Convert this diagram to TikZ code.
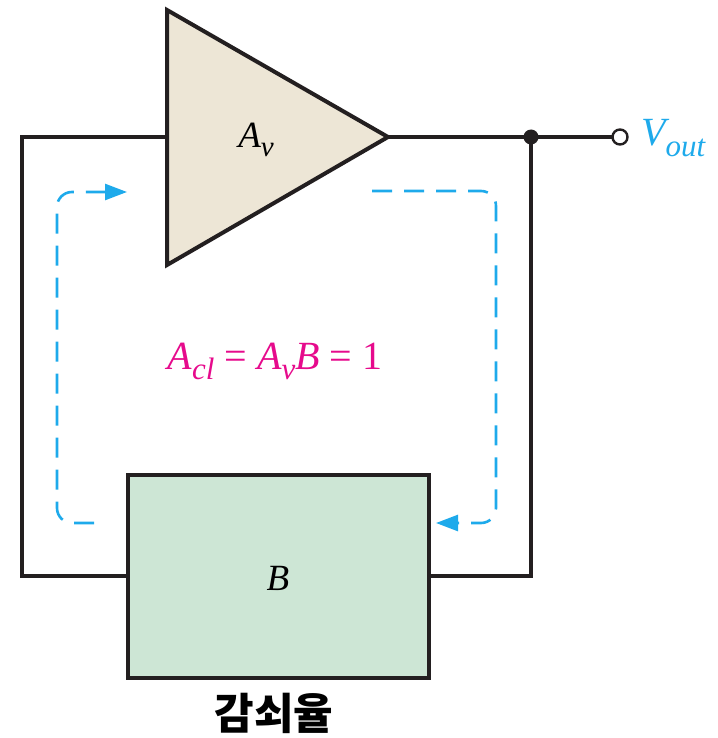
\documentclass[tikz,border=0pt]{standalone}
\usepackage{fontspec}
\setmainfont{Liberation Serif}
\newfontfamily\krfont{Noto Sans CJK KR}
\usetikzlibrary{arrows.meta}
\definecolor{loopblue}{RGB}{30,170,235}
\definecolor{gainpink}{RGB}{230,10,140}
\definecolor{ampfill}{RGB}{237,230,214}
\definecolor{boxfill}{RGB}{205,230,213}
\definecolor{ink}{RGB}{35,31,32}
\tikzset{
  wire/.style={line width=4pt, ink},
  loopdash/.style={loopblue, line width=2.6pt, dash pattern=on 20pt off 12pt, rounded corners=15pt, -{Triangle[length=22pt,width=16pt]}},
  lbl/.style={inner sep=0pt, font=\fontsize{37}{40}\selectfont\itshape},
}
\newcommand{\subv}[2]{\raisebox{-0.55ex}{\fontsize{#1}{#1}\selectfont #2}}
\begin{document}
\begin{tikzpicture}[x=1pt,y=-1pt]
\useasboundingbox (0,0) rectangle (717,738);
% coordinates
\coordinate (ampTop) at (167,10);
\coordinate (ampBot) at (167,265);
\coordinate (ampOut) at (388,137);
\coordinate (ampIn) at (167,137);
\coordinate (nodeJ) at (531,137);
\coordinate (inL) at (22,137);
\coordinate (fbL) at (22,576);
\coordinate (fbR) at (531,576);
% feedback box
\node[draw, line width=4pt, ink, fill=boxfill, minimum width=301pt, minimum height=203pt, inner sep=0pt] (fb) at (278.5,576) {};
\node[lbl] at (278,578) {B};
% wires
\draw[wire] (ampOut) -- (613,137);
\draw[wire] (nodeJ) -- (fbR) -- (fb.east |- fbR);
\draw[wire] (fb.west |- fbL) -- (fbL) -- (inL) -- (ampIn);
% amplifier
\draw[line width=4pt, ink, fill=ampfill, line join=miter] (ampTop) -- (ampOut) -- (ampBot) -- cycle;
\node[lbl] (av) at (256,140) {A\subv{29}{v}};
% junction and terminal
\fill[ink] (nodeJ) circle (7.5pt);
\node[circle, draw, line width=2.4pt, ink, fill=white, minimum size=15pt, inner sep=0pt] (term) at (620,137) {};
\node[anchor=base west, inner sep=0pt, loopblue, font=\fontsize{40}{44}\selectfont\itshape] (vout) at (641,146) {V\subv{31}{out}};
% loop arrows
\coordinate (l1) at (94,523);
\coordinate (l4) at (127,192);
\draw[loopdash] (l1) -- (57,523) -- (57,192) -- (l4);
\coordinate (r1) at (372,191);
\coordinate (r4) at (436,523);
\draw[loopdash] (r1) -- (496,191) -- (496,523) -- (r4);
% gain label
\node[inner sep=0pt, gainpink, font=\fontsize{40}{44}\selectfont] (gain) at (275,361) {\itshape A\subv{31}{cl}\upshape\ = \itshape A\subv{31}{v}B\upshape\ = 1};
% caption
\node[inner sep=0pt, font=\krfont\bfseries\fontsize{43}{46}\selectfont] (cap) at (274,713) {감쇠율};
\end{tikzpicture}
\end{document}
